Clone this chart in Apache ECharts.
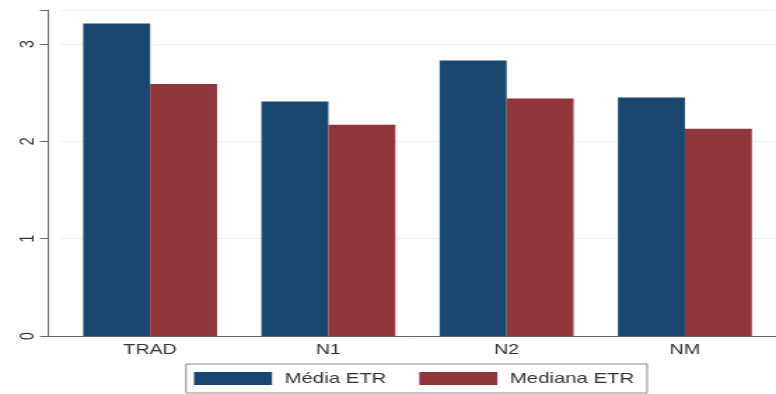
<!DOCTYPE html>
<html>
<head>
<meta charset="utf-8">
<script src="https://cdn.jsdelivr.net/npm/echarts@6/dist/echarts.min.js"></script>
<style>
  html, body { margin: 0; padding: 0; background: #ffffff; overflow: hidden; }
  /* the chart is laid out on a narrower canvas and widened, like a stretched Stata export */
  #chart { width: 554px; height: 394px; transform: scaleX(1.40072); transform-origin: 0 0; }
</style>
</head>
<body>
<div id="chart"></div>
<script>
const categories = ['TRAD', 'N1', 'N2', 'NM'];
const mediaETR = [3.21, 2.41, 2.83, 2.45];
const medianaETR = [2.59, 2.17, 2.44, 2.13];
const yTicks = [0, 1, 2, 3];

const seriesNames = ['Média ETR', 'Mediana ETR'];
const navy = '#1a476f';
const maroon = '#90353b';

const chart = echarts.init(document.getElementById('chart'));
chart.setOption({
  backgroundColor: '#ffffff',
  animation: false,
  textStyle: { fontFamily: 'Liberation Sans, Arial, sans-serif' },
  grid: [
    { left: 43.55, right: 1.43, top: 10, bottom: 58 },
    { left: 34.27, right: 0, top: 10, bottom: 58 }
  ],
  legend: {
    data: seriesNames,
    left: 132.8,
    top: 364,
    orient: 'horizontal',
    icon: 'rect',
    itemWidth: 55.7,
    itemHeight: 13,
    itemGap: 23.6,
    padding: [7, 9.3, 7, 5.7],
    borderColor: '#8a8a8a',
    borderWidth: 1,
    textStyle: { fontSize: 14.5, color: '#333333', padding: [0, 0, 0, 4] }
  },
  xAxis: [
    {
      type: 'category',
      gridIndex: 0,
      data: categories,
      axisLine: { show: false },
      axisTick: { show: false },
      axisLabel: { fontSize: 14, color: '#333333', margin: 7.5 },
      splitLine: { show: false }
    },
    {
      type: 'value',
      gridIndex: 1,
      min: 0,
      max: 1,
      axisLine: { show: true, onZero: false, lineStyle: { color: '#666666', width: 1 } },
      axisTick: { show: false },
      axisLabel: { show: false },
      splitLine: { show: false }
    }
  ],
  yAxis: [
    {
      type: 'value',
      gridIndex: 0,
      min: yTicks[0],
      max: 3.35,
      interval: 1,
      offset: 9.28,
      axisLine: { show: true, lineStyle: { color: '#666666', width: 1 } },
      axisTick: { show: true, length: 5.7, lineStyle: { color: '#666666' } },
      axisLabel: {
        rotate: 90,
        fontSize: 14,
        color: '#333333',
        margin: 7,
        formatter: v => (yTicks.indexOf(v) >= 0 ? String(v) : '')
      },
      splitLine: { show: true, lineStyle: { color: '#eef2f3', width: 1 } }
    },
    {
      type: 'value',
      gridIndex: 1,
      show: false
    }
  ],
  series: [
    {
      name: seriesNames[0],
      type: 'bar',
      xAxisIndex: 0,
      yAxisIndex: 0,
      data: mediaETR,
      barWidth: 47.8,
      barGap: '0%',
      itemStyle: { color: navy }
    },
    {
      name: seriesNames[1],
      type: 'bar',
      xAxisIndex: 0,
      yAxisIndex: 0,
      data: medianaETR,
      barWidth: 47.8,
      barGap: '0%',
      itemStyle: { color: maroon }
    }
  ]
});
</script>
</body>
</html>
